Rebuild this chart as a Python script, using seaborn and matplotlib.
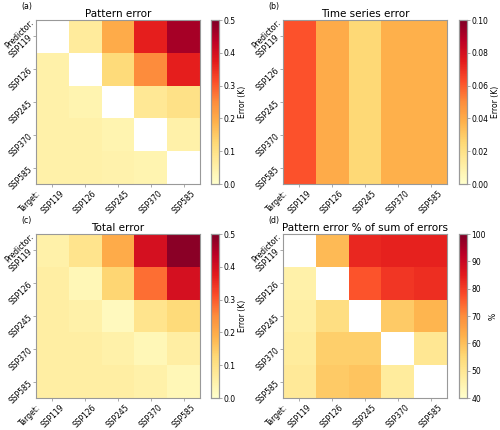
import numpy as np
import pandas as pd
import matplotlib
matplotlib.use("Agg")
import matplotlib.pyplot as plt
import matplotlib.transforms as mtransforms
import seaborn as sns

scen = ["SSP119", "SSP126", "SSP245", "SSP370", "SSP585"]
nan = np.nan

pattern_err = [
    [nan, 0.07, 0.20, 0.37, 0.46],
    [0.05, nan, 0.12, 0.25, 0.37],
    [0.05, 0.04, nan, 0.08, 0.10],
    [0.05, 0.05, 0.04, nan, 0.05],
    [0.05, 0.05, 0.045, 0.04, nan],
]
ts_cols = [0.062, 0.040, 0.025, 0.038, 0.038]
ts_err = [ts_cols for _ in scen]
total_err = [
    [0.05, 0.09, 0.20, 0.40, 0.49],
    [0.06, 0.03, 0.13, 0.28, 0.40],
    [0.06, 0.05, 0.02, 0.09, 0.12],
    [0.06, 0.06, 0.05, 0.03, 0.06],
    [0.06, 0.06, 0.06, 0.05, 0.03],
]
pct_err = [
    [nan, 61, 83, 84, 84],
    [46, nan, 77, 81, 82],
    [47, 53, nan, 58, 62],
    [48, 57, 57, nan, 50],
    [49, 58, 59, 48, nan],
]

W, H = 500, 430
fig = plt.figure(figsize=(W / 100, H / 100), dpi=100)

panels = [
    ("(a)", "Pattern error", pattern_err, 0, 0.5, "Error (K)", 36, 20, 210.5),
    ("(b)", "Time series error", ts_err, 0, 0.1, "Error (K)", 283, 20, 458.5),
    ("(c)", "Total error", total_err, 0, 0.5, "Error (K)", 36, 234, 210.5),
    ("(d)", "Pattern error % of sum of errors", pct_err, 40, 100, "%", 283, 234, 458.5),
]

size = 164
FS = 5.5
spine_c = "#999999"
for lab, title, data, vmin, vmax, clab, x0, y0, cx in panels:
    ax = fig.add_axes([x0 / W, 1 - (y0 + size) / H, size / W, size / H])
    cax = fig.add_axes([cx / W, 1 - (y0 + size) / H, 8.5 / W, size / H])
    df = pd.DataFrame(data, index=scen, columns=scen)
    sns.heatmap(df, ax=ax, cbar_ax=cax, cmap="YlOrRd", vmin=vmin, vmax=vmax,
                cbar_kws={"label": clab})
    ax.set_title(title, fontsize=7.5, pad=2)
    ax.set_xticklabels(scen, rotation=45, ha="center", fontsize=FS)
    ax.set_yticklabels(scen, rotation=45, ha="right", va="center",
                       rotation_mode="anchor", fontsize=FS)
    ax.tick_params(axis="both", length=2.5, width=0.5, color="#888888", pad=1)
    for s in ax.spines.values():
        s.set_visible(True)
        s.set_color(spine_c)
        s.set_linewidth(0.8)
    ax.text(-0.034, -0.03, "Target:", transform=ax.transAxes, rotation=45,
            ha="center", va="top", fontsize=FS)
    ax.text(-0.02, 0.995, "Predictor:", transform=ax.transAxes, rotation=45,
            ha="right", va="center", rotation_mode="anchor", fontsize=FS)
    ax.text(-0.09, 1.055, lab, transform=ax.transAxes, fontsize=5.7,
            ha="left", va="bottom")
    cax.tick_params(labelsize=FS, length=2, width=0.5, color="#888888", pad=1)
    cax.yaxis.label.set_size(FS)
    cax.yaxis.labelpad = 2
    for s in cax.spines.values():
        s.set_visible(True)
        s.set_color(spine_c)
        s.set_linewidth(0.8)

fig.savefig("out.png", dpi=100)
